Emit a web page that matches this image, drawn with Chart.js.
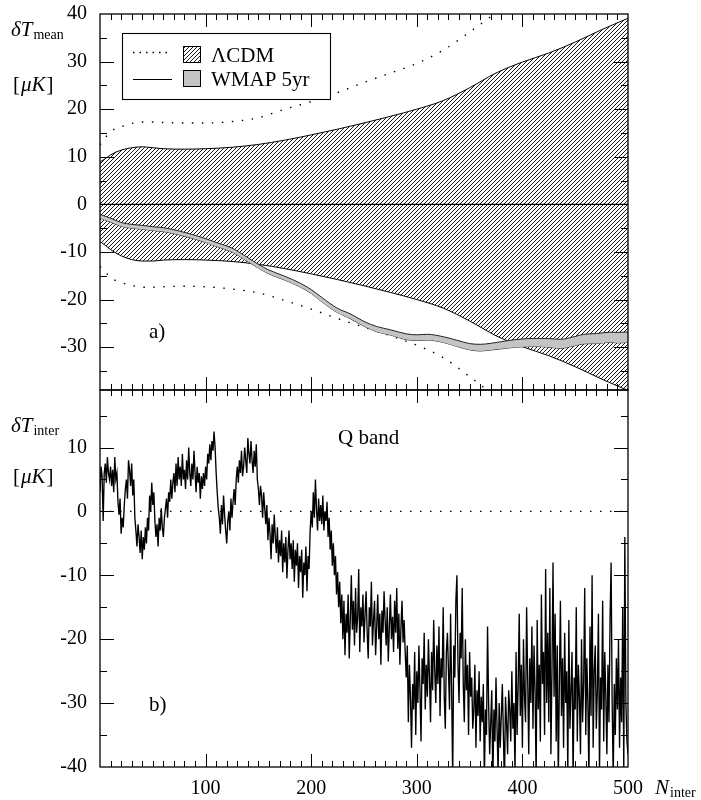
<!DOCTYPE html>
<html><head><meta charset="utf-8">
<script src="https://cdn.jsdelivr.net/npm/chart.js@4.4.1/dist/chart.umd.min.js"></script>
<style>
html,body{margin:0;padding:0;background:#fff;}
#wrap{position:relative;width:701px;height:800px;}
canvas{position:absolute;left:0;top:0;}
</style></head><body>
<div id="wrap">
<canvas id="topc" width="701" height="800" style="width:701px;height:800px"></canvas>
<canvas id="botc" width="701" height="800" style="width:701px;height:800px"></canvas>
</div>
<script>
// ---------- data: panel a) ----------
const lcdmX = [0,5,10,20,30,40,50,60,80,100,125,150,175,200,225,250,275,300,325,350,375,400,425,450,475,500];
const lcdm2sUpper = [8.9,9.6,10.4,11.4,11.9,12.1,11.9,11.7,11.6,11.7,12.0,12.6,13.5,14.6,15.8,17.1,18.5,20.0,21.8,24.5,27.6,29.9,31.8,34.1,36.7,39.1];
const lcdm2sLower = [-7.8,-8.6,-9.5,-10.8,-11.6,-11.9,-11.9,-11.7,-11.6,-11.7,-12.0,-12.6,-13.5,-14.6,-15.8,-17.1,-18.5,-20.0,-21.8,-24.5,-27.6,-29.9,-31.8,-34.1,-36.7,-39.1];
const lcdm3sUpper = [12.5,14.0,15.3,16.3,17.0,17.3,17.3,17.2,17.1,17.1,17.4,18.2,20.0,21.6,23.5,25.6,27.6,29.6,32.4,36.2,40.3,45.0,48.0,51.0,55.0,59.0];
const lcdm3sLower = [-13.0,-14.2,-15.4,-16.4,-17.0,-17.4,-17.4,-17.3,-17.2,-17.3,-17.8,-18.6,-20.2,-22.0,-24.0,-25.8,-27.6,-29.6,-32.2,-36.2,-40.5,-45.0,-48.0,-51.0,-55.0,-59.0];
const wmapX = [0,10,20,30,40,50,60,75,90,100,110,125,140,150,160,175,190,200,210,225,237,250,262,275,290,300,310,325,338,350,360,370,380,394,413,425,436,450,458,470,483,490,500];
const wmapUpper = [-2.1,-2.9,-3.8,-4.2,-4.4,-4.7,-4.9,-5.6,-6.5,-7.2,-8.0,-9.2,-11.2,-12.6,-13.8,-15.1,-16.6,-17.9,-19.55,-21.85,-23.0,-24.6,-25.65,-26.35,-27.2,-27.4,-27.3,-27.8,-28.55,-29.25,-29.4,-29.2,-28.85,-28.4,-28.15,-28.2,-28.35,-27.75,-27.3,-27.15,-26.85,-26.9,-26.8];
const wmapLower = [-2.9,-3.7,-4.6,-5.0,-5.2,-5.5,-5.7,-6.4,-7.3,-8.0,-8.8,-10.0,-12.0,-13.4,-14.6,-15.9,-17.4,-18.7,-20.45,-22.75,-24.0,-25.6,-26.75,-27.45,-28.4,-28.6,-28.5,-29.0,-29.85,-30.55,-30.8,-30.6,-30.35,-30.0,-29.85,-30.0,-30.25,-29.65,-29.3,-29.25,-28.95,-29.1,-29.0];
const zeroX = [0,500];
const zeroY = [0,0];
const yTicksTop = [40,30,20,10,0,-10,-20,-30];
const yMinorTop = [35,25,15,5,-5,-15,-25,-35];

// ---------- data: panel b) Q band ----------
const interValues = [
3,7,5.5,-1.5,6,7.5,4.5,8.5,6,5,
7,4,6.5,3,8.5,5,6,1.5,-0.5,2,
-3.5,-1,-2.5,1,3.5,5,2,8,6.5,4,
7.5,2.5,5,-1,-3,-5.5,-2,-4,-6.5,-3,
-7.5,-4,-6,-2.5,-5,-1,-3,2.5,0,4.5,
1,3,-1.5,-4,-2,-5.5,-1,-3,0.5,-2.5,
-4,-1,0.5,2,-1,3,1.5,5,2,4.5,
6,3,7.5,4,8.5,5,7,4,9,5,
6.5,3.5,8,5,10,6,4,7.5,5,9.5,
6,3,7,4.5,6,2,5.5,3.5,6,4,
7,5,9,7.5,10.5,8,11,9.5,12.5,10,
6,3,0.5,-1,-3.5,1,-2,2.5,-0.5,-3,
-5,-1.5,0,-3,2,-1,1.5,3.5,1,5,
7,4.5,8,6,9.5,5.5,7,10,8,6,
11.5,9,7.5,11,8,6,9.5,7,10.5,5,
3.5,1,4,2.5,-1,3,0.5,-2,1,-4.5,
-1,-3.5,-7.5,-2,-5,-0.5,-4,-6.5,-2.5,-8,
-4.5,-7,-3,-9.5,-5,-8,-4,-10.5,-6,-3,
-7.5,-5,-9,-4.5,-11,-6,-8.5,-5,-12,-7,
-9.5,-6,-13.5,-8,-10,-5.5,-12.5,-7,-9,-3,
0,-2.5,3,-1,5,0.5,-3,2,-1.5,1,
-2,2.5,-3,0,-1.5,1.5,-4,-1,-6,-3,
-8.5,-5,-10,-7,-13,-9.5,-15,-11,-17.5,-13,
-20,-14,-22.5,-16,-19,-13,-23,-17,-10,-18.5,
-14,-21,-12,-19,-16.5,-9,-22,-15,-18,-13,
-20.5,-16,-12.5,-19,-23,-15,-18,-11,-21,-17,
-14,-22.5,-18,-13,-20,-16,-24,-15.5,-19,-12.5,
-17,-21,-15,-23.5,-18,-13,-20,-16.5,-22,-14,
-19,-12,-21.5,-16,-24,-18,-14,-20.5,-17,-22,
-26,-21,-33,-24,-29,-37,-27,-31,-22,-35,
-25,-30,-21,-28,-36,-23,-27,-19,-31,-24,
-29,-20,-26,-33,-22,-28,-17,-25,-30,-21,
-27,-18,-32,-23,-26,-15,-29,-34,-22,-19,
-25,-31,-16,-28,-42,-21,-26,-14,-10,-24,
-30,-19,-23,-12,-27,-33,-20,-28,-24,-35,
-22,-29,-26,-34,-31,-24,-37,-28,-32,-25,
-36,-29,-33,-27,-42,-31,-35,-18,-30,-38,
-33,-28,-43,-31,-36,-26,-34,-41,-30,-37,
-32,-27,-35,-43,-29,-33,-38,-28,-31,-36,
-25,-34,-30,-41,-22,-35,-27,-16,-32,-24,
-37,-20,-29,-33,-15,-26,-38,-23,-30,-18,
-34,-21,-28,-42,-17,-31,-24,-36,-13,-27,
-22,-35,-9,-30,-19,-33,-12,-38,-25,-8,
-29,-16,-36,-21,-42,-27,-14,-32,-23,-37,
-19,-30,-25,-41,-17,-34,-28,-22,-42,-26,
-31,-15,-36,-24,-29,-38,-20,-33,-27,-12,
-35,-23,-30,-42,-18,-32,-10,-37,-25,-21,
-34,-28,-16,-41,-26,-31,-14,-36,-22,-29,
-38,-24,-33,-17,-8,-30,-42,-27,-35,-23,
-31,-20,-37,-26,-33,-15,-41,-4,-30,-36,
-38];
const nInter = interValues.map((v, i) => i);
const yTicksBot = [10,0,-10,-20,-30,-40];
const yMinorBot = [15,5,-5,-15,-25,-35];
const xTickLabels = [100,200,300,400,500];

// ---------- helpers ----------
const FONT = '"Liberation Serif", "DejaVu Serif", serif';
const pts = (xs, ys) => xs.map((x, i) => ({x: x, y: ys[i]}));
const noPad = s => { s.paddingTop = 0; s.paddingBottom = 0; s.paddingLeft = 0; s.paddingRight = 0; };

function makeHatch(ctx) {
  const c = document.createElement('canvas');
  c.width = 4; c.height = 4;
  const g = c.getContext('2d');
  g.strokeStyle = '#000'; g.lineWidth = 0.9;
  g.beginPath();
  g.moveTo(0, 4); g.lineTo(4, 0);
  g.moveTo(-1, 1); g.lineTo(1, -1);
  g.moveTo(3, 5); g.lineTo(5, 3);
  g.stroke();
  return ctx.createPattern(c, 'repeat');
}

const framePlugin = {
  id: 'frame',
  afterDraw(chart, args, opts) {
    const {ctx, chartArea: a} = chart;
    const x = chart.scales.x, y = chart.scales.y;
    ctx.save();
    ctx.strokeStyle = '#000';
    ctx.lineWidth = 1;
    ctx.beginPath();
    for (let v = 10; v < 500; v += 10) {
      const px = Math.round(x.getPixelForValue(v)) + 0.5;
      const len = (v % 100 === 0) ? 13 : 6;
      ctx.moveTo(px, a.top); ctx.lineTo(px, a.top + len);
      ctx.moveTo(px, a.bottom); ctx.lineTo(px, a.bottom - len);
    }
    const ticksY = [[opts.major, 14], [opts.minor, 7]];
    ticksY.forEach(([vals, len]) => {
      vals.forEach(v => {
        if (v <= y.min || v >= y.max) return;
        const py = Math.round(y.getPixelForValue(v)) + 0.5;
        ctx.moveTo(a.left, py); ctx.lineTo(a.left + len, py);
        ctx.moveTo(a.right, py); ctx.lineTo(a.right - len, py);
      });
    });
    ctx.stroke();
    ctx.lineWidth = 1.3;
    ctx.strokeRect(a.left, a.top, a.right - a.left, a.bottom - a.top);
    ctx.restore();
  }
};

function subText(ctx, main, sub, x, y, yOff) {
  ctx.font = 'italic 21px ' + FONT;
  ctx.fillText(main, x, y);
  const w = ctx.measureText(main).width;
  ctx.font = '14px ' + FONT;
  ctx.fillText(sub, x + w + 1, y + yOff);
}
function unitText(ctx, x, y) {
  ctx.font = '21px ' + FONT;
  ctx.fillText('[', x, y);
  let w = ctx.measureText('[').width;
  ctx.font = 'italic 21px ' + FONT;
  ctx.fillText('μK', x + w + 1, y);
  w += ctx.measureText('μK').width + 2;
  ctx.font = '21px ' + FONT;
  ctx.fillText(']', x + w, y);
}

const topTextPlugin = {
  id: 'topText',
  afterDraw(chart) {
    const ctx = chart.ctx;
    ctx.save();
    ctx.fillStyle = '#000';
    ctx.textBaseline = 'alphabetic';
    subText(ctx, 'δT', 'mean', 11, 36, 3);
    unitText(ctx, 13, 91);
    ctx.font = '21px ' + FONT;
    ctx.fillText('a)', 149, 338);
    // legend
    ctx.fillStyle = '#fff';
    ctx.fillRect(122, 33, 208, 66);
    ctx.strokeStyle = '#000';
    ctx.lineWidth = 1.1;
    ctx.strokeRect(122.5, 33.5, 208, 66);
    ctx.lineWidth = 1.4;
    ctx.setLineDash([1.5, 5]);
    ctx.beginPath(); ctx.moveTo(133, 52.5); ctx.lineTo(169, 52.5); ctx.stroke();
    ctx.setLineDash([]);
    ctx.lineWidth = 1.2;
    ctx.beginPath(); ctx.moveTo(133, 79.5); ctx.lineTo(172, 79.5); ctx.stroke();
    ctx.fillStyle = chart.$hatch;
    ctx.fillRect(183, 46, 17, 16);
    ctx.lineWidth = 1;
    ctx.strokeRect(183.5, 46.5, 17, 16);
    ctx.fillStyle = '#c4c4c4';
    ctx.fillRect(183, 70, 17, 16);
    ctx.strokeRect(183.5, 70.5, 17, 16);
    ctx.fillStyle = '#000';
    ctx.font = '21px ' + FONT;
    ctx.fillText('ΛCDM', 211, 62);
    ctx.fillText('WMAP 5yr', 211, 86);
    ctx.restore();
  }
};

const botTextPlugin = {
  id: 'botText',
  afterDraw(chart) {
    const ctx = chart.ctx;
    ctx.save();
    ctx.fillStyle = '#000';
    subText(ctx, 'δT', 'inter', 11, 432, 3);
    unitText(ctx, 13, 483);
    ctx.font = '21px ' + FONT;
    ctx.fillText('Q band', 338, 444);
    ctx.fillText('b)', 149, 711);
    subText(ctx, 'N', 'inter', 655, 794, 3);
    ctx.restore();
  }
};

const common = {
  responsive: false,
  animation: false,
  devicePixelRatio: 1,
  elements: {point: {radius: 0}, line: {tension: 0}}
};

// ---------- top chart ----------
const topCtx = document.getElementById('topc').getContext('2d');
const hatch = makeHatch(topCtx);
const lineOpts = {pointRadius: 0, cubicInterpolationMode: 'monotone', tension: 0.4};
const topChart = new Chart(topCtx, {
  type: 'line',
  data: {datasets: [
    Object.assign({data: pts(wmapX, wmapUpper), borderColor: '#222', borderWidth: 1, backgroundColor: '#c4c4c4', fill: '+1'}, lineOpts),
    Object.assign({data: pts(wmapX, wmapLower), borderColor: '#222', borderWidth: 1, fill: false}, lineOpts),
    {data: pts(zeroX, zeroY), borderColor: '#000', borderWidth: 1.2, pointRadius: 0, fill: false},
    Object.assign({data: pts(lcdmX, lcdm3sUpper), borderColor: '#000', borderWidth: 1.4, borderDash: [1.5, 8.5], fill: false}, lineOpts),
    Object.assign({data: pts(lcdmX, lcdm3sLower), borderColor: '#000', borderWidth: 1.4, borderDash: [1.5, 8.5], fill: false}, lineOpts),
    Object.assign({data: pts(lcdmX, lcdm2sUpper), borderColor: '#000', borderWidth: 1, backgroundColor: hatch, fill: '+1'}, lineOpts),
    Object.assign({data: pts(lcdmX, lcdm2sLower), borderColor: '#000', borderWidth: 1, fill: false}, lineOpts)
  ]},
  options: Object.assign({}, common, {
    layout: {padding: {left: 0, right: 73, top: 14, bottom: 410}},
    plugins: {legend: {display: false}, tooltip: {enabled: false},
      frame: {major: yTicksTop, minor: yMinorTop}},
    scales: {
      x: {type: 'linear', min: 0, max: 500, display: false},
      y: {type: 'linear', min: -39, max: 40,
        afterBuildTicks: s => { s.ticks = yTicksTop.map(v => ({value: v})); },
        afterFit: s => { s.width = 100; noPad(s); },
        grid: {display: false, drawTicks: false},
        border: {display: false},
        ticks: {color: '#000', padding: 13, font: {family: FONT, size: 20}, callback: v => String(v)}
      }
    }
  }),
  plugins: [framePlugin, topTextPlugin]
});
topChart.$hatch = hatch;
topChart.draw();

// ---------- bottom chart ----------
const botCtx = document.getElementById('botc').getContext('2d');
new Chart(botCtx, {
  type: 'line',
  data: {datasets: [
    {data: pts(nInter, interValues), borderColor: '#000', borderWidth: 1.35, pointRadius: 0, tension: 0, fill: false},
    {data: pts(zeroX, zeroY), borderColor: '#000', borderWidth: 1.3, borderDash: [1.5, 8.5], pointRadius: 0, fill: false}
  ]},
  options: Object.assign({}, common, {
    layout: {padding: {left: 0, right: 73, top: 390, bottom: 0}},
    plugins: {legend: {display: false}, tooltip: {enabled: false},
      frame: {major: yTicksBot, minor: yMinorBot}},
    scales: {
      x: {type: 'linear', min: 0, max: 500,
        afterBuildTicks: s => { s.ticks = xTickLabels.map(v => ({value: v})); },
        afterFit: s => { s.height = 33; noPad(s); },
        grid: {display: false, drawTicks: false},
        border: {display: false},
        ticks: {color: '#000', padding: 10, autoSkip: false, maxRotation: 0, font: {family: FONT, size: 20}, callback: v => String(v)}
      },
      y: {type: 'linear', min: -40, max: 19,
        afterBuildTicks: s => { s.ticks = yTicksBot.map(v => ({value: v})); },
        afterFit: s => { s.width = 100; noPad(s); },
        grid: {display: false, drawTicks: false},
        border: {display: false},
        ticks: {color: '#000', padding: 13, font: {family: FONT, size: 20}, callback: v => String(v)}
      }
    }
  }),
  plugins: [framePlugin, botTextPlugin]
});
</script>
</body></html>
